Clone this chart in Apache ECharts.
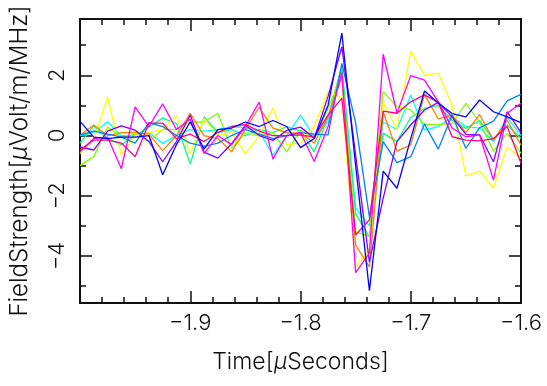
<!DOCTYPE html>
<html>
<head>
<meta charset="utf-8">
<script src="https://cdn.jsdelivr.net/npm/echarts@6/dist/echarts.min.js"></script>
<style>
html,body{margin:0;padding:0;background:#fff}
#chart{width:547px;height:386px}
</style>
</head>
<body>
<div id="chart"></div>
<script>
// time samples (microseconds), 12.5 ns apart
var times = [-2.0, -1.9875, -1.975, -1.9625, -1.95, -1.9375, -1.925, -1.9125, -1.9, -1.8875, -1.875,
  -1.8625, -1.85, -1.8375, -1.825, -1.8125, -1.8, -1.7875, -1.775, -1.7625, -1.75, -1.7375,
  -1.725, -1.7125, -1.7, -1.6875, -1.675, -1.6625, -1.65, -1.6375, -1.625, -1.6125, -1.6];

var blue = [0.47, -0.05, -0.1, -0.05, -0.05, 0.0, -1.3, -0.3, 0.45, -0.45, 0.2, 0.25, 0.45, 0.3, 0.5, 0.3, -0.4,
  -0.1, 1.0, 3.4, -1.0, -5.15, -1.18, -1.75, -0.1, 1.48, 1.08, 0.73, 0.62, 1.18, 0.79, 0.62, 0.43];
var violet = [-0.38, -0.48, 0.15, 0.32, 0.18, -0.2, -0.87, -0.2, 0.68, -0.55, -0.75, -0.27, 0.34, 0.0, -0.16, 0.17, 0.28,
  -0.08, 1.3, 2.95, -0.65, -4.2, -2.08, -0.2, 0.35, 0.85, 1.1, 0.62, 0.04, 0.02, -0.87, 0.79, 0.1];
var magenta = [-0.54, -0.1, -0.05, -1.1, 0.95, 0.3, 1.05, 0.2, 0.55, -0.6, 0.0, -0.3, 0.3, 1.11, -0.78, 0.0, 0.1,
  -0.86, 0.3, 2.1, -4.55, -3.9, 2.7, 0.74, 1.99, 1.84, 1.12, 0.25, -0.04, 0.02, -1.48, 0.74, 1.07];
var rose = [-0.48, -0.15, -0.15, -0.25, -0.7, 0.41, 0.41, -0.1, 0.05, -0.2, 0.1, 0.3, 0.36, 0.15, 0.0, 0.0, 0.02,
  -0.05, 0.68, 1.24, -3.3, -2.8, 0.81, 0.74, 1.12, 1.35, 1.1, -0.04, -0.15, -0.18, -0.1, 0.3, -0.92];
var orange = [0.0, 0.35, 0.0, 0.1, 0.1, 0.05, -0.5, 0.0, 0.74, 0.0, -0.1, -0.54, 0.2, 0.94, 0.25, 0.1, 0.08,
  -0.25, 0.65, 1.95, -3.64, -4.36, 0.8, -0.52, -0.31, 1.36, 0.55, 0.68, 0.1, 0.7, -0.15, 0.51, -0.32];
var yellow = [-0.6, -0.15, 1.28, -0.65, 0.0, 0.1, 0.2, 0.67, -0.6, 0.56, 0.0, 0.1, -0.6, 0.0, 0.92, -0.3, -0.25,
  0.3, 1.46, 1.25, -4.36, -3.8, 1.1, 0.22, 2.8, 2.0, 2.07, 1.01, -1.35, -1.18, -1.75, -0.37, -0.76];
var lime = [-1.0, -0.7, 0.28, -0.05, 0.05, -0.2, 0.2, 0.2, 0.45, 0.45, 0.74, -0.43, 0.1, 0.0, 0.1, -0.54, 0.18,
  -0.1, 0.9, 2.07, -3.2, -3.35, 1.46, 0.96, 0.85, 0.37, 0.37, 0.4, 1.07, 0.44, -0.51, 0.07, -0.59];
var green = [-0.25, 0.32, -0.1, -0.3, 0.0, 0.28, 0.58, 0.4, -0.95, 0.62, 0.1, 0.2, 0.0, 0.2, 0.1, 0.3, 0.15,
  -0.54, 0.6, 2.3, -2.6, -3.36, 0.08, -0.2, 0.6, 0.9, 1.0, 0.5, 0.24, 0.5, -0.15, 0.35, -0.1];
var cyan = [0.0, 0.1, 0.46, 0.0, 0.0, 0.1, -0.26, 0.0, 0.2, 0.15, 0.2, 0.3, 0.25, 0.15, -0.66, 0.0, 0.68,
  -0.05, 0.45, 2.2, -2.4, -3.0, 0.45, 0.2, 1.35, 0.18, 0.3, 0.62, 0.3, 0.25, -0.2, 0.6, 0.0];
var azure = [0.02, 0.15, 0.05, -0.05, -0.25, 0.43, 0.3, 0.0, -0.25, -0.36, -0.25, 0.0, 0.2, 0.05, -0.1, 0.0, 0.1,
  0.05, 0.02, 2.4, 0.42, -2.7, -0.2, -0.9, -0.7, 0.38, -0.45, 0.68, -0.43, 0.26, 0.48, 1.15, 1.37];

var traces = [
  ['cyan', cyan, '#00ffff'],
  ['green', green, '#00ff80'],
  ['lime', lime, '#80ff00'],
  ['yellow', yellow, '#ffff00'],
  ['orange', orange, '#ff8000'],
  ['azure', azure, '#0080ff'],
  ['violet', violet, '#8000ff'],
  ['magenta', magenta, '#ff00ff'],
  ['rose', rose, '#ff0080'],
  ['blue', blue, '#0000ff']
];

var yMajor = [-4, -2, 0, 2];
var yMinor = [-5, -3, -1, 1, 3];

var FONT = 'Inter';
var WEIGHT = 300;
var INK = '#111';
var frame = { show: true, onZero: false, lineStyle: { color: INK, width: 2 } };

function neg(s) { return s.replace('-', '\u2212'); }

function nameStyle(size) {
  return { fontFamily: FONT, fontWeight: WEIGHT, fontSize: size, color: INK,
    rich: { mu: { fontFamily: FONT, fontWeight: WEIGHT, fontSize: size, color: INK, fontStyle: 'italic' } } };
}

function xAx(pos, labels) {
  return {
    type: 'value', position: pos, min: -2, max: -1.6, interval: 0.1,
    axisLine: frame, splitLine: { show: false },
    axisTick: { show: true, inside: true, length: 12, lineStyle: { color: INK, width: 1.5 } },
    minorTick: { show: true, splitNumber: 5, length: 6, lineStyle: { color: INK, width: 1.5 } },
    axisLabel: {
      show: labels, showMinLabel: false, margin: 9, fontFamily: FONT, fontWeight: WEIGHT,
      fontSize: 22, color: INK,
      formatter: function (v) { return neg(v.toFixed(1)); }
    },
    name: labels ? 'Time[{mu|\u03bc}Seconds]' : '',
    nameLocation: 'middle', nameGap: 48,
    nameTextStyle: nameStyle(23)
  };
}

function yAx(pos, ticks, len, labels) {
  return {
    type: 'value', position: pos, min: -5.56, max: 3.87,
    axisLine: frame, splitLine: { show: false },
    axisTick: { show: true, inside: true, length: len, customValues: ticks,
      lineStyle: { color: INK, width: 1.5 } },
    axisLabel: {
      show: labels, customValues: yMajor, rotate: 90, margin: 12,
      fontFamily: FONT, fontWeight: WEIGHT, fontSize: 22, color: INK,
      formatter: function (v) { return neg(String(v)); }
    },
    name: labels ? 'FieldStrength[{mu|\u03bc}Volt/m/MHz]' : '',
    nameLocation: 'middle', nameGap: 48,
    nameTextStyle: nameStyle(24)
  };
}

var chart = echarts.init(document.getElementById('chart'), null, { renderer: 'canvas' });

var series = traces.map(function (tr) {
  return {
    name: tr[0], type: 'line', xAxisIndex: 0, yAxisIndex: 0,
    showSymbol: false, symbol: 'none', silent: true,
    lineStyle: { color: tr[2], width: 1.3 },
    data: times.map(function (t, i) { return [t, tr[1][i]]; })
  };
});

chart.setOption({
  animation: false,
  backgroundColor: '#fff',
  grid: { left: 72, right: 26, top: 19, bottom: 83, containLabel: false },
  xAxis: [xAx('bottom', true), xAx('top', false)],
  yAxis: [
    yAx('left', yMajor, 12, true),
    yAx('left', yMinor, 6, false),
    yAx('right', yMajor, 12, false),
    yAx('right', yMinor, 6, false)
  ],
  series: series
});
</script>
</body>
</html>
